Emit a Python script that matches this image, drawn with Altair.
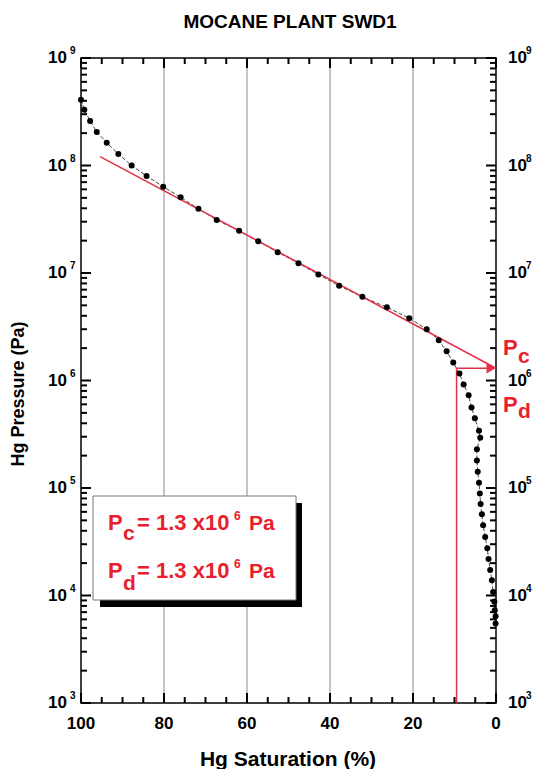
import altair as alt
import pandas as pd

# ---------------- data ----------------
TITLE = "MOCANE PLANT SWD1"
X_TITLE = "Hg Saturation (%)"
Y_TITLE = "Hg Pressure (Pa)"

SAT = [100, 99.2, 97.8, 96.2, 93.8, 91.0, 87.8, 84.2, 80.2, 76.0,
       71.7, 67.3, 61.9, 57.3, 52.6, 47.6, 42.8, 37.8, 32.2, 26.3,
       20.9, 16.7, 13.8, 11.9, 10.3, 8.8, 7.8, 6.6, 5.9, 5.1,
       4.1, 3.8, 4.6, 4.6, 4.4, 4.1, 3.9, 3.7, 3.4, 3.1,
       2.6, 2.1, 1.8, 1.4, 1.0, 0.7, 0.4, 0.3, 0.1, 0.1]
PRES = [4.1e8, 3.3e8, 2.6e8, 2.05e8, 1.63e8, 1.28e8, 1.0e8, 8.0e7, 6.35e7, 5.06e7,
        3.96e7, 3.11e7, 2.47e7, 1.97e7, 1.56e7, 1.23e7, 9.7e6, 7.6e6, 6.0e6, 4.8e6,
        3.8e6, 3.0e6, 2.37e6, 1.87e6, 1.47e6, 1.16e6, 9.2e5, 7.3e5, 5.6e5, 4.45e5,
        3.4e5, 2.94e5, 2.29e5, 1.8e5, 1.42e5, 1.12e5, 8.9e4, 7.1e4, 5.7e4, 4.5e4,
        3.5e4, 2.75e4, 2.19e4, 1.73e4, 1.39e4, 1.08e4, 8.75e3, 7.3e3, 6.4e3, 5.5e3]

TANGENT_SAT = [95.4, 0.0]
TANGENT_PRES = [1.21e8, 1.3e6]
PC = 1.3e6
PD = 1.3e6
PD_SAT = 9.5
ARROW_SAT = [1.2]

X_LABELS = [0, 20, 40, 60, 80, 100]
X_GRID = [20, 40, 60, 80]
X_MINOR = [5, 10, 15, 25, 30, 35, 45, 50, 55, 65, 70, 75, 85, 90, 95]
Y_EXPONENTS = [3, 4, 5, 6, 7, 8, 9]
Y_MINOR_MULT = [2, 3, 4, 5, 6, 7, 8, 9]

BOX_LINE1 = ["P", "c", "= 1.3 x10", "6", "Pa"]
BOX_LINE2 = ["P", "d", "= 1.3 x10", "6", "Pa"]
SIDE_PC = ["P", "c"]
SIDE_PD = ["P", "d"]

# ---------------- layout ----------------
W, H = 415, 645
FONT = "Liberation Sans"
RED_LINE = "#e6304a"
RED_TEXT = "#e8202e"
X_LO, X_HI = 0.0, 100.0
Y_LO, Y_HI = 1e3, 1e9
DECADES = 6.0
MAJOR_LEN, MINOR_LEN = 10, 6

# ---------------- build tables ----------------
pts = pd.DataFrame({"sat": SAT, "p": PRES, "i": list(range(len(SAT)))})
tan = pd.DataFrame({"sat": TANGENT_SAT, "p": TANGENT_PRES})
decades = pd.DataFrame({"v": [10.0 ** e for e in Y_EXPONENTS],
                        "e": [str(e) for e in Y_EXPONENTS]})
x_major = pd.DataFrame({"x": X_LABELS, "t": [str(v) for v in X_LABELS]})
x_grid = pd.DataFrame({"x": X_GRID})
ONE = pd.DataFrame({"k": [0]})

y_major_vals = [10.0 ** e for e in Y_EXPONENTS]
y_minor_vals = [m * 10.0 ** e for e in Y_EXPONENTS[:-1] for m in Y_MINOR_MULT]


def y_tick_table(vals, ln):
    # tick length of ln pixels, expressed in saturation units, inward from both frames
    d = ln * (X_HI - X_LO) / W
    rows = []
    for v in vals:
        rows.append({"tv": v, "ta": X_HI, "tb": X_HI - d})
        rows.append({"tv": v, "ta": X_LO, "tb": X_LO + d})
    return pd.DataFrame(rows)


def x_tick_table(vals, ln):
    f = 10.0 ** (ln * DECADES / H)
    rows = []
    for v in vals:
        rows.append({"tx": float(v), "ya": Y_LO, "yb": Y_LO * f})
        rows.append({"tx": float(v), "ya": Y_HI, "yb": Y_HI / f})
    return pd.DataFrame(rows)


XS = alt.Scale(domain=[X_LO, X_HI], reverse=True, nice=False, zero=False)
YS = alt.Scale(type="log", domain=[Y_LO, Y_HI], nice=False)


def X(field):
    return alt.X(field, type="quantitative", scale=XS, axis=None)


def Y(field):
    return alt.Y(field, type="quantitative", scale=YS, axis=None)


def label(text, x, y, size, color="black", align="left", baseline="alphabetic", angle=0):
    return alt.Chart(ONE).mark_text(
        text=text, font=FONT, fontWeight="bold", fontSize=size, color=color,
        align=align, baseline=baseline, angle=angle
    ).encode(x=alt.value(x), y=alt.value(y))


grid = alt.Chart(x_grid).mark_rule(color="#8a8a8a", strokeWidth=1).encode(x=X("x:Q"))
xlabels = alt.Chart(x_major).mark_text(
    font=FONT, fontWeight="bold", fontSize=17, baseline="top", align="center", color="black"
).encode(x=X("x:Q"), y=alt.value(H + 13), text="t:N")

curve = alt.Chart(pts).mark_line(color="#444444", strokeWidth=1, strokeDash=[4, 2]).encode(
    x=X("sat:Q"), y=Y("p:Q"), order=alt.Order("i:Q"))
dots = alt.Chart(pts).mark_circle(color="black", opacity=1, size=36).encode(
    x=X("sat:Q"), y=Y("p:Q"))
tangent = alt.Chart(tan).mark_line(color=RED_LINE, strokeWidth=1.5).encode(
    x=X("sat:Q"), y=Y("p:Q"))
pd_vert = alt.Chart(pd.DataFrame({"sat": [PD_SAT], "p0": [Y_LO], "p1": [PD]})).mark_rule(
    color=RED_LINE, strokeWidth=1.5).encode(x=X("sat:Q"), y=Y("p0:Q"), y2="p1:Q")
pd_horiz = alt.Chart(pd.DataFrame({"s0": [PD_SAT], "s1": [0.0], "p": [PC]})).mark_rule(
    color=RED_LINE, strokeWidth=1.5).encode(x=X("s0:Q"), x2="s1:Q", y=Y("p:Q"))
arrow = alt.Chart(pd.DataFrame({"sat": ARROW_SAT, "p": [PC]})).mark_point(
    shape="triangle-right", filled=True, color=RED_LINE, opacity=1, size=110).encode(
    x=X("sat:Q"), y=Y("p:Q"))

# inward frame ticks, same construction as the Pd rules
yt_major = alt.Chart(y_tick_table(y_major_vals, MAJOR_LEN)).mark_rule(
    color="black", strokeWidth=2).encode(x=X("ta:Q"), x2="tb:Q", y=Y("tv:Q"))
yt_minor = alt.Chart(y_tick_table(y_minor_vals, MINOR_LEN)).mark_rule(
    color="black", strokeWidth=2).encode(x=X("ta:Q"), x2="tb:Q", y=Y("tv:Q"))
xt_major = alt.Chart(x_tick_table(X_LABELS, MAJOR_LEN)).mark_rule(
    color="black", strokeWidth=2).encode(x=X("tx:Q"), y=Y("ya:Q"), y2="yb:Q")
xt_minor = alt.Chart(x_tick_table(X_MINOR, MINOR_LEN)).mark_rule(
    color="black", strokeWidth=2).encode(x=X("tx:Q"), y=Y("ya:Q"), y2="yb:Q")

# y tick labels 10^n, both sides
ylab = []
for x10, xe, al in [(-14, -11, "right"), (427, 445, "left")]:
    ylab.append(alt.Chart(decades).mark_text(
        text="10", font=FONT, fontWeight="bold", fontSize=17, align=al, baseline="middle",
        color="black").encode(y=Y("v:Q"), x=alt.value(x10)))
    ylab.append(alt.Chart(decades).mark_text(
        font=FONT, fontWeight="bold", fontSize=10, align="left", baseline="middle",
        dy=-7, color="black").encode(y=Y("v:Q"), x=alt.value(xe), text="e:N"))

# legend box
shadow = alt.Chart(ONE).mark_rect(color="black").encode(
    x=alt.value(19), x2=alt.value(221), y=alt.value(445), y2=alt.value(549))
box = alt.Chart(ONE).mark_rect(fill="white", stroke="#777777", strokeWidth=1).encode(
    x=alt.value(12), x2=alt.value(215), y=alt.value(438), y2=alt.value(542))

texts = [
    label(TITLE, 209, -30, 19, align="center"),
    label(X_TITLE, 207, 708, 21, align="center"),
    label(Y_TITLE, -62, 336, 18, align="center", baseline="middle", angle=270),
]
for line, base_y, sub_dy in [(BOX_LINE1, 472, 10), (BOX_LINE2, 520, 12)]:
    texts += [
        label(line[0], 27, base_y, 22, RED_TEXT),
        label(line[1], 42, base_y + sub_dy, 21, RED_TEXT),
        label(line[2], 56, base_y, 22, RED_TEXT),
        label(line[3], 153, base_y - 10, 12, RED_TEXT),
        label(line[4], 168, base_y, 21, RED_TEXT),
    ]
texts += [
    label(SIDE_PC[0], 422, 297, 22, RED_TEXT),
    label(SIDE_PC[1], 437, 305, 21, RED_TEXT),
    label(SIDE_PD[0], 422, 354, 22, RED_TEXT),
    label(SIDE_PD[1], 437, 360, 21, RED_TEXT),
]

chart = alt.layer(
    grid, curve, tangent, pd_vert, pd_horiz, yt_major, yt_minor, xt_major, xt_minor,
    dots, arrow, xlabels, *ylab, shadow, box, *texts
).properties(
    width=W, height=H,
    autosize=alt.AutoSizeParams(type="none"),
    padding={"left": 73, "top": 50, "right": 36, "bottom": 66},
    background="white",
).configure_view(stroke="black", strokeWidth=1.5)

chart.save("out.html", embed_options={"renderer": "svg", "actions": False})
